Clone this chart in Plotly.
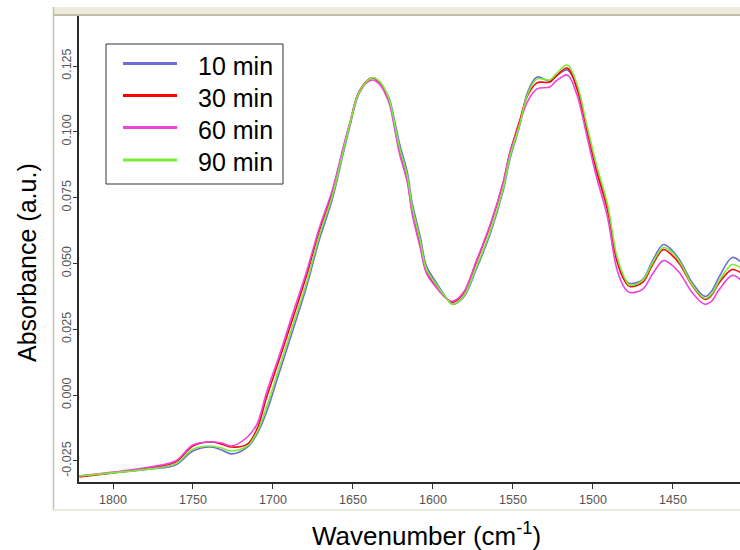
import plotly.graph_objects as go

# ---------------- data ----------------
wavenumber = [1821, 1800, 1777, 1761, 1750, 1739, 1732, 1726, 1716, 1710,
              1704, 1696, 1688, 1679, 1671, 1663, 1656, 1652, 1646, 1638,
              1633, 1629, 1627, 1621, 1616, 1613, 1608, 1604, 1598, 1591,
              1588, 1581, 1573, 1564, 1556, 1552, 1546, 1541, 1535, 1527,
              1523, 1516, 1510, 1504, 1498, 1491, 1485, 1480, 1477, 1469,
              1463, 1456, 1451, 1446, 1438, 1430, 1426, 1421, 1413, 1408]

abs_10min = [-0.0307, -0.0295, -0.0280, -0.0265, -0.0212, -0.0197, -0.0208, -0.0223, -0.0197, -0.0148,
             -0.0064, 0.0087, 0.0239, 0.0413, 0.0591, 0.0742, 0.0920, 0.1019, 0.1148, 0.1205,
             0.1186, 0.1148, 0.1121, 0.0958, 0.0845, 0.0731, 0.0602, 0.0489, 0.0428, 0.0364,
             0.0345, 0.0371, 0.0477, 0.0617, 0.0780, 0.0894, 0.1019, 0.1148, 0.1208, 0.1193,
             0.1212, 0.1235, 0.1170, 0.1019, 0.0867, 0.0716, 0.0515, 0.0439, 0.0424, 0.0439,
             0.0508, 0.0572, 0.0553, 0.0515, 0.0428, 0.0375, 0.0394, 0.0451, 0.0523, 0.0508]

abs_30min = [-0.0311, -0.0295, -0.0277, -0.0254, -0.0193, -0.0178, -0.0186, -0.0197, -0.0186, -0.0129,
             -0.0008, 0.0136, 0.0284, 0.0455, 0.0625, 0.0769, 0.0939, 0.1030, 0.1155, 0.1205,
             0.1186, 0.1140, 0.1110, 0.0928, 0.0814, 0.0697, 0.0568, 0.0466, 0.0413, 0.0364,
             0.0352, 0.0386, 0.0504, 0.0648, 0.0811, 0.0920, 0.1038, 0.1136, 0.1186, 0.1189,
             0.1212, 0.1242, 0.1163, 0.1011, 0.0856, 0.0705, 0.0508, 0.0432, 0.0413, 0.0428,
             0.0492, 0.0553, 0.0534, 0.0500, 0.0417, 0.0364, 0.0379, 0.0428, 0.0477, 0.0466]

abs_60min = [-0.0307, -0.0292, -0.0273, -0.0250, -0.0189, -0.0178, -0.0182, -0.0193, -0.0159, -0.0110,
             0.0011, 0.0152, 0.0303, 0.0470, 0.0636, 0.0777, 0.0943, 0.1034, 0.1152, 0.1197,
             0.1178, 0.1133, 0.1102, 0.0920, 0.0807, 0.0689, 0.0561, 0.0462, 0.0409, 0.0364,
             0.0356, 0.0390, 0.0508, 0.0652, 0.0811, 0.0917, 0.1027, 0.1114, 0.1163, 0.1170,
             0.1193, 0.1216, 0.1140, 0.0989, 0.0833, 0.0678, 0.0477, 0.0405, 0.0390, 0.0402,
             0.0458, 0.0511, 0.0496, 0.0466, 0.0390, 0.0345, 0.0356, 0.0402, 0.0455, 0.0439]

abs_90min = [-0.0307, -0.0295, -0.0280, -0.0261, -0.0205, -0.0193, -0.0201, -0.0212, -0.0193, -0.0140,
             -0.0045, 0.0106, 0.0258, 0.0428, 0.0606, 0.0754, 0.0928, 0.1027, 0.1152, 0.1205,
             0.1189, 0.1148, 0.1117, 0.0943, 0.0830, 0.0716, 0.0587, 0.0477, 0.0420, 0.0364,
             0.0345, 0.0375, 0.0485, 0.0625, 0.0788, 0.0902, 0.1023, 0.1140, 0.1201, 0.1197,
             0.1220, 0.1254, 0.1182, 0.1030, 0.0879, 0.0727, 0.0527, 0.0443, 0.0417, 0.0436,
             0.0500, 0.0561, 0.0545, 0.0508, 0.0420, 0.0367, 0.0383, 0.0436, 0.0496, 0.0485]

series_names = ["10 min", "30 min", "60 min", "90 min"]
series_values = [abs_10min, abs_30min, abs_60min, abs_90min]
series_colors = ["#6e6ed6", "#ff0000", "#ee44dd", "#77ee33"]

x_tick_values = [1800, 1750, 1700, 1650, 1600, 1550, 1500, 1450]
y_tick_values = [-0.025, 0.0, 0.025, 0.05, 0.075, 0.1, 0.125]
y_tick_labels = ["-0.025", "0.000", "0.025", "0.050", "0.075", "0.100", "0.125"]

x_title = "Wavenumber (cm<sup>-1</sup>)"
y_title = "Absorbance (a.u.)"

# ---------------- layout geometry ----------------
W, H = 740, 550
ML, MR, MT, MB = 79, 0, 16, 68
PW, PH = W - ML - MR, H - MT - MB


def fx(p):
    return (p - ML) / PW


def fy(p):
    return (H - MB - p) / PH


FONT = "Liberation Sans, Arial, sans-serif"

fig = go.Figure()
for name, vals, col in zip(series_names, series_values, series_colors):
    fig.add_trace(go.Scatter(x=wavenumber, y=vals, mode="lines", name=name,
                             line=dict(color=col, width=1.6, shape="spline", smoothing=1.0),
                             showlegend=False))

shapes = []
# window-like frame
shapes.append(dict(type="rect", xref="paper", yref="paper", x0=fx(53), x1=fx(740), y0=fy(14), y1=fy(7),
                   fillcolor="#eeebdc", line=dict(width=0), layer="above"))
shapes.append(dict(type="line", xref="paper", yref="paper", x0=fx(53), x1=fx(740), y0=fy(15), y1=fy(15),
                   line=dict(color="#c2bea9", width=2)))
shapes.append(dict(type="line", xref="paper", yref="paper", x0=fx(53.5), x1=fx(53.5), y0=fy(7), y1=fy(510),
                   line=dict(color="#c6c2ad", width=1.5)))
shapes.append(dict(type="line", xref="paper", yref="paper", x0=fx(53), x1=fx(740), y0=fy(510), y1=fy(510),
                   line=dict(color="#ece9d8", width=2)))

# manual legend
shapes.append(dict(type="rect", xref="paper", yref="paper", x0=fx(106), x1=fx(283), y0=fy(184), y1=fy(44),
                   fillcolor="white", line=dict(color="#333333", width=1)))
row_y = [63.5, 95.5, 127.5, 160]
annotations = []
for ry, name, col in zip(row_y, series_names, series_colors):
    shapes.append(dict(type="line", xref="paper", yref="paper", x0=fx(123), x1=fx(177), y0=fy(ry), y1=fy(ry),
                       line=dict(color=col, width=3)))
    annotations.append(dict(text=name, xref="paper", yref="paper", x=fx(196), y=fy(ry + 2),
                            xanchor="left", yanchor="middle", showarrow=False,
                            font=dict(family=FONT, size=25, color="black")))

annotations.append(dict(text=x_title, xref="paper", yref="paper", x=fx(426), y=fy(534),
                        xanchor="center", yanchor="middle", showarrow=False,
                        font=dict(family=FONT, size=26, color="black")))
annotations.append(dict(text=y_title, xref="paper", yref="paper", x=fx(27), y=fy(263),
                        xanchor="center", yanchor="middle", showarrow=False, textangle=-90,
                        font=dict(family=FONT, size=25, color="black")))

fig.update_layout(
    width=W, height=H,
    margin=dict(l=ML, r=MR, t=MT, b=MB, pad=0),
    paper_bgcolor="white", plot_bgcolor="white",
    shapes=shapes, annotations=annotations,
    showlegend=False,
    xaxis=dict(range=[1821.25, 1408.1], tickvals=x_tick_values,
               ticks="outside", ticklen=5, tickwidth=1, tickcolor="#333333",
               showline=True, linecolor="#2a2a2a", linewidth=2, mirror=False,
               showgrid=False, zeroline=False,
               tickfont=dict(family=FONT, size=12.5, color="#555555")),
    yaxis=dict(range=[-0.03298, 0.14399], tickvals=y_tick_values, ticktext=y_tick_labels,
               tickangle=-90, ticklabelstandoff=-3,
               ticks="outside", ticklen=4, tickwidth=1, tickcolor="#333333",
               showline=True, linecolor="#2a2a2a", linewidth=2, mirror=False,
               showgrid=False, zeroline=False,
               tickfont=dict(family=FONT, size=12.5, color="#555555")),
)

fig.write_html("out.html")
